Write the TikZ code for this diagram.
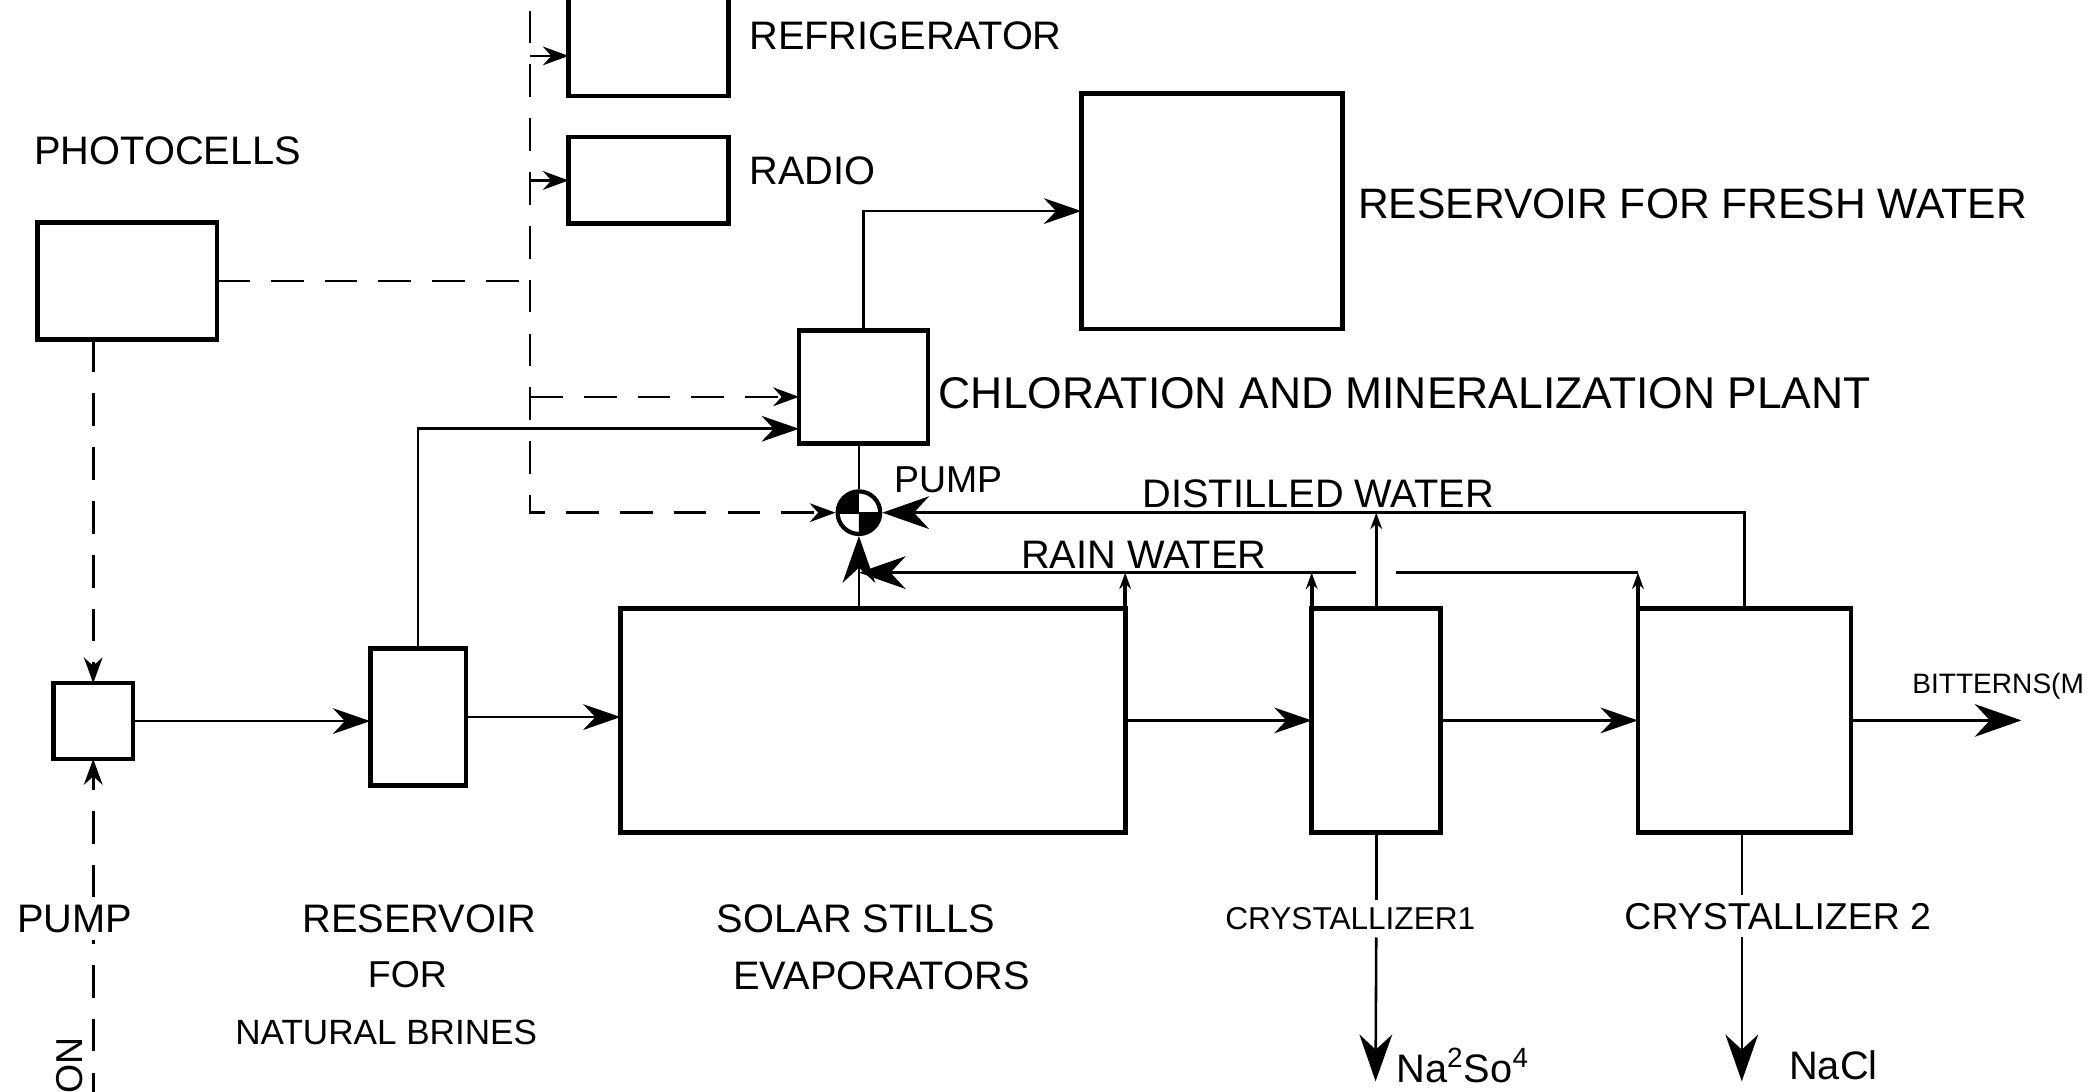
\documentclass[tikz,border=0pt]{standalone}
\usepackage{fontspec}
\setmainfont{Liberation Sans}
\usetikzlibrary{arrows.meta}

\tikzset{
  unit/.style={draw, line width=2pt, inner sep=0pt, outer sep=0pt},
  lbl/.style={inner sep=3pt, font=\fontsize{17}{20}\selectfont},
  pipe/.style={line width=1.1pt},
  sig/.style={line width=1.1pt, dash pattern=on 14pt off 9pt},
  flow/.style={-{Stealth[length=16pt,width=11pt]}},
  bigflow/.style={-{Stealth[length=20pt,width=14pt]}},
  sigtip/.style={-{Stealth[length=11pt,width=8pt]}},
  tip/.style={-{Stealth[length=7pt,width=5pt]}},
}

\begin{document}
\begin{tikzpicture}[x=0.02cm, y=-0.02cm]
  \useasboundingbox (0,0) rectangle (1568,820);
  \clip (0,0) rectangle (1568,820);

  \node[unit, minimum width=2.4cm, minimum height=1.56cm] (fridge) at (487,33) {};
  \node[unit, minimum width=2.4cm, minimum height=1.3cm] (radio) at (487,135.5) {};
  \node[unit, minimum width=2.7cm, minimum height=1.76cm] (photo) at (95.5,211) {};
  \node[unit, minimum width=1.2cm, minimum height=1.14cm] (pumpbox) at (70,541.5) {};
  \node[unit, minimum width=1.44cm, minimum height=2.06cm] (brine) at (314,538.5) {};
  \node[unit, minimum width=7.58cm, minimum height=3.36cm] (stills) at (655.5,541) {};
  \node[unit, minimum width=1.94cm, minimum height=1.7cm] (chlor) at (648.5,290.5) {};
  \node[unit, minimum width=3.92cm, minimum height=3.54cm] (fresh) at (910,158.5) {};
  \node[unit, minimum width=1.94cm, minimum height=3.36cm] (cryst1) at (1033.5,541) {};
  \node[unit, minimum width=3.2cm, minimum height=3.36cm] (cryst2) at (1310,541) {};
  \node[circle, draw, line width=1.8pt, minimum size=0.64cm, inner sep=0pt] (pump) at (645,385) {};

  \begin{scope}[shift={(pump.center)}, x=1cm, y=1cm]
    \fill (0,0) -- (0,0.32) arc (90:180:0.32) -- cycle;
    \fill (0,0) -- (0,-0.32) arc (270:360:0.32) -- cycle;
  \end{scope}
  \draw[line width=1pt] (pump.west) -- (pump.east);

  \node[lbl] (photolbl) at (126,113) {PHOTOCELLS};
  \node[lbl] (fridgelbl) at (680,27) {REFRIGERATOR};
  \node[lbl] (radiolbl) at (610,128) {RADIO};
  \node[lbl, font=\fontsize{18.2}{21}\selectfont] (freshlbl) at (1271,153) {RESERVOIR FOR FRESH WATER};
  \node[lbl, font=\fontsize{19}{22}\selectfont] (chlorlbl) at (1055,295) {CHLORATION AND MINERALIZATION PLANT};
  \node[lbl, font=\fontsize{16}{19}\selectfont] (pumplbl2) at (712,360) {PUMP};
  \node[lbl] (distlbl) at (990,371) {DISTILLED WATER};
  \node[lbl] (rainlbl) at (859,417) {RAIN WATER};
  \node[lbl, anchor=west, inner sep=1pt, font=\fontsize{12}{14}\selectfont] (bittlbl) at (1434,515) {BITTERNS(M};
  \node[lbl] (pumplbl) at (56,690) {PUMP};
  \node[lbl, rotate=90, font=\fontsize{16}{19}\selectfont] (onlbl) at (52,800) {ON};
  \node[lbl] (brinelbl1) at (315,690) {RESERVOIR};
  \node[lbl, font=\fontsize{16}{19}\selectfont] (brinelbl2) at (306,732) {FOR};
  \node[lbl, font=\fontsize{15}{18}\selectfont] (brinelbl3) at (290,775) {NATURAL BRINES};
  \node[lbl] (stillslbl1) at (643,690) {SOLAR STILLS};
  \node[lbl] (stillslbl2) at (662,733) {EVAPORATORS};
  \node[lbl, font=\fontsize{13.5}{16}\selectfont] (c1lbl) at (1014,690) {CRYSTALLIZER1};
  \node[lbl, font=\fontsize{16}{19}\selectfont] (c2lbl) at (1335,688) {CRYSTALLIZER 2};

  \coordinate (bustop) at (398,8);
  \coordinate (well) at (70,830);
  \coordinate (rain) at (645,430);
  \coordinate (bitout) at (1518,538);
  \coordinate (c1out) at (1033,812);
  \coordinate (c2out) at (1308,812);
  \coordinate (fridgesig) at ([yshift=-0.18cm]fridge.west);
  \coordinate (chlorsig) at ([yshift=-0.15cm]chlor.west);
  \coordinate (chlorin) at ([yshift=0.22cm]chlor.south west);

  \node[lbl, anchor=west] (na2so4) at ([xshift=0.2cm]c1out |- 0,800) {Na\textsuperscript{2}So\textsuperscript{4}};
  \node[lbl, anchor=west] (nacl) at ([xshift=0.6cm]c2out |- 0,800) {NaCl};

  % control lines
  \draw[sig] (photo.east) -- (photo.east -| bustop);
  \draw[sig, sigtip] (bustop) |- (pump.west);
  \draw[sig, sigtip] (bustop |- fridgesig) -- (fridgesig);
  \draw[sig, sigtip] (bustop |- radio.west) -- (radio.west);
  \draw[sig, sigtip] (bustop |- chlorsig) -- (chlorsig);
  \draw[sig, sigtip] (pumpbox |- photo.south) -- (pumpbox.north);
  \draw[sig] (well) -- (well |- pumplbl.south);
  \draw[sig, sigtip] (pumpbox.south |- pumplbl.north) -- (pumpbox.south);

  % brine and water
  \draw[pipe, flow] (pumpbox.east) -- (pumpbox.east -| brine.west);
  \draw[pipe, flow] (brine.east) -- (brine.east -| stills.west);
  \draw[pipe, flow] (brine.north) |- (chlorin);
  \draw[pipe, flow] (chlor.north) |- (fresh.west);
  \draw[pipe] (pump.north) -- (pump.north |- chlor.south);
  \draw[pipe, bigflow] (stills.north -| pump) -- (pump.south);
  \draw[pipe, bigflow] (cryst2.north) |- (pump.east);
  \draw[pipe, tip] (cryst1.north) -- (cryst1.north |- pump.east);
  \draw[line width=1.6pt, tip] (stills.north east) -- (stills.north east |- rain);
  \draw[line width=1.6pt, tip] (cryst1.north west) -- (cryst1.north west |- rain);
  \draw[line width=1.6pt, tip] (cryst2.north west) -- (cryst2.north west |- rain);
  \draw[pipe] (cryst2.north west |- rain) -- ([xshift=0.3cm]cryst1.north |- rain);
  \draw[pipe, bigflow] ([xshift=-0.3cm]cryst1.north |- rain) -- (rain);
  \draw[pipe, flow] (stills.east) -- (stills.east -| cryst1.west);
  \draw[pipe, flow] (cryst1.east) -- (cryst1.east -| cryst2.west);
  \draw[pipe, bigflow] (cryst2.east) -- (cryst2.east -| bitout);

  % products
  \draw[pipe] (cryst1.south) -- (cryst1.south |- c1lbl.north);
  \draw[pipe, bigflow] (cryst1.south |- c1lbl.south) -- (c1out);
  \draw[pipe] (cryst2.south -| c2out) -- (c2out |- c2lbl.north);
  \draw[pipe, bigflow] (c2out |- c2lbl.south) -- (c2out);
\end{tikzpicture}
\end{document}
